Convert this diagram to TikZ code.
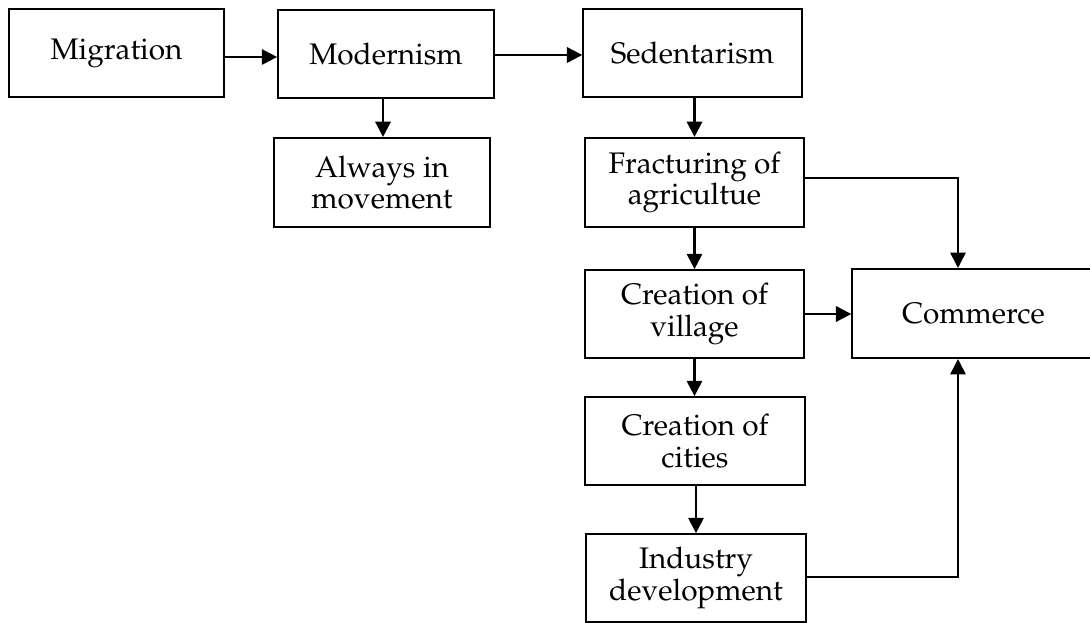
\documentclass[tikz,border=0pt]{standalone}
\usepackage[T1]{fontenc}
\usepackage{mathpazo}
\usetikzlibrary{arrows.meta,calc}
\tikzset{
  box/.style={draw, line width=1.3pt, align=center, inner sep=0pt, font=\fontsize{22.3}{23.4}\selectfont},
  arr/.style={line width=1.7pt, -{Triangle[length=11.5pt,width=11.5pt]}},
  elbow/.style={line width=1.3pt, -{Triangle[length=11.5pt,width=11.5pt]}}
}
\begin{document}
\begin{tikzpicture}[x=0.75pt,y=-0.75pt]
\useasboundingbox (0,0) rectangle (1090,623);
\node[box, minimum width=161pt, minimum height=66pt] (mig) at (116.5,53) {Migration};
\node[box, minimum width=162pt, minimum height=66pt] (mod) at (386,54) {Modernism};
\node[box, minimum width=162pt, minimum height=67pt] (alw) at (382,182.5) {Always in\\movement};
\node[box, minimum width=164pt, minimum height=66pt] (sed) at (692.5,53) {Sedentarism};
\node[box, minimum width=164pt, minimum height=67pt] (fra) at (694.5,182.5) {Fracturing of\\agricultue};
\node[box, minimum width=164pt, minimum height=66pt] (vil) at (694.5,314) {Creation of\\village};
\node[box, minimum width=182pt, minimum height=67pt] (com) at (973.5,313.5) {Commerce};
\node[box, minimum width=165pt, minimum height=66pt] (cit) at (695,441) {Creation of\\cities};
\node[box, minimum width=165pt, minimum height=66pt] (ind) at (696,578) {Industry\\development};
\coordinate (cm) at ($(com.north)+(-15.5,0)$);
\coordinate (ma) at ($(mod.south)+(-3,0)$);
\draw[arr] ($(mig.east)+(0,4)$) -- ($(mod.west)+(0,3)$);
\draw[arr] ($(mod.east)+(0,1)$) -- ($(sed.west)+(0,2)$);
\draw[arr] (ma) -- (ma |- alw.north);
\draw[arr] (sed.south -| fra.north) -- (fra.north);
\draw[arr] (fra.south) -- (vil.north);
\draw[arr] (vil.south) -- (vil.south |- cit.north);
\draw[arr] (cit.south -| ind.north) -- (ind.north);
\draw[arr] (vil.east) -- (vil.east -| com.west);
\draw[elbow] ($(fra.east)+(0,-4.5)$) -| (cm);
\draw[elbow] ($(ind.east)+(0,-1)$) -| (cm |- com.south);
\end{tikzpicture}
\end{document}
